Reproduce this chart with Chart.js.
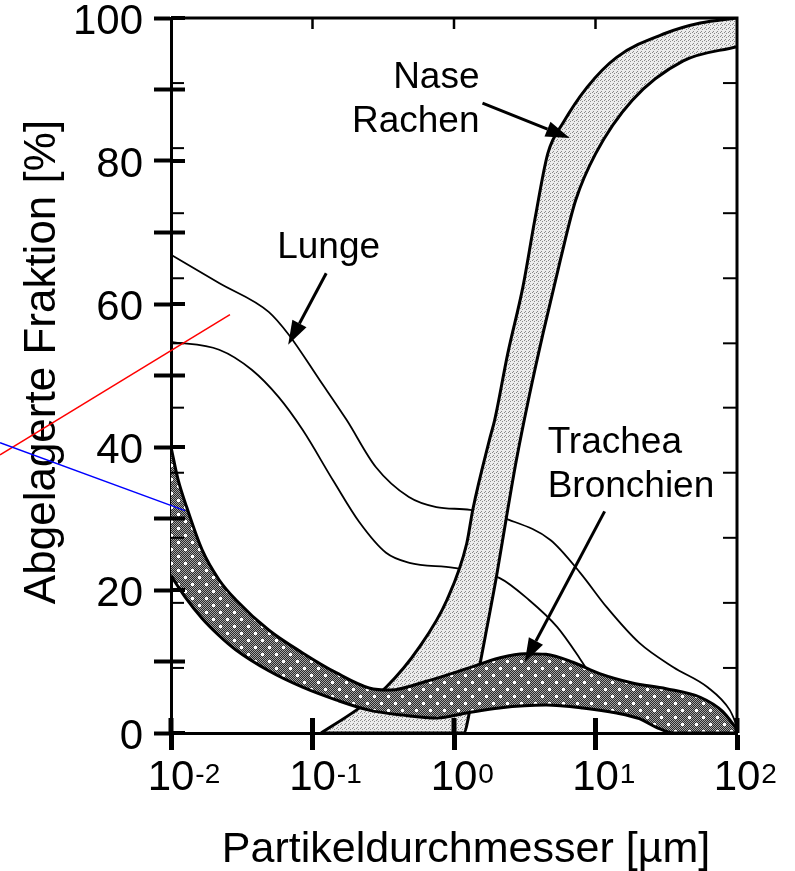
<!DOCTYPE html>
<html>
<head>
<meta charset="utf-8">
<script src="https://cdn.jsdelivr.net/npm/chart.js@4.4.1/dist/chart.umd.min.js"></script>
<style>
  html, body { margin: 0; padding: 0; background: #fff; }
  canvas { display: block; }
</style>
</head>
<body>
<canvas id="c" width="795" height="871"></canvas>
<script>
// Partikeldurchmesser [µm] und abgelagerte Fraktion [%]
const lungeObenX = [0.01, 0.022, 0.049, 0.068, 0.112, 0.174, 0.28, 0.48, 0.75, 1.3, 2.45, 4.8, 7.8, 12, 20.4, 35.5, 62, 89, 100];
const lungeObenY = [66.9, 62.9, 58.9, 55.7, 49.4, 43.8, 37.2, 33.0, 31.6, 31.2, 29.8, 27.0, 22.4, 17.6, 12.6, 9.2, 6.4, 3.2, 1.0];

const lungeUntenX = [0.01, 0.0219, 0.0372, 0.0575, 0.0851, 0.141, 0.214, 0.331, 0.484, 1.0, 2.09, 3.39, 5.37, 7.76, 11.2];
const lungeUntenY = [54.7, 53.6, 50.8, 47.0, 42.4, 35.2, 29.5, 25.2, 23.8, 23.1, 21.7, 18.6, 14.8, 10.4, 5.5];

const naseLinksX = [0.115, 0.204, 0.331, 0.569, 0.891, 1.23, 1.36, 1.78, 1.94, 2.40, 3.07, 3.72, 4.61, 5.89, 8.71, 14.1, 31.6, 55, 100];
const naseLinksY = [0, 3.2, 6.4, 12.0, 18.6, 26.5, 31.3, 41.0, 43.8, 53.1, 62.4, 71.7, 81.1, 85.3, 90.3, 94.5, 97.9, 99.3, 100];

const naseRechtsX = [0.115, 1.17, 1.32, 1.51, 1.70, 2.0, 2.34, 2.75, 3.39, 4.27, 5.62, 7.24, 10, 18.2, 41.7, 100];
const naseRechtsY = [0, 0, 4, 9.2, 14.5, 22, 30, 38, 47, 56, 66, 74.5, 81, 88.5, 94, 96];

const tbObenX = [0.01, 0.0112, 0.0129, 0.0166, 0.0219, 0.0288, 0.049, 0.0851, 0.148, 0.251, 0.355, 0.631, 1.23, 2.09, 3.16, 4.47, 6.92, 10.7, 18.2, 31.6, 55, 79.4, 100];
const tbObenY = [40.0, 35.5, 31.6, 25.6, 21.4, 18.6, 14.4, 11.2, 8.4, 6.3, 6.0, 7.2, 9.0, 10.5, 11.1, 11.0, 9.9, 8.3, 7.0, 6.2, 5.0, 3.0, 0.5];

const tbUntenX = [0.01, 0.0126, 0.0166, 0.0219, 0.0288, 0.049, 0.0851, 0.148, 0.251, 0.437, 0.759, 1.23, 2.09, 4.47, 8.13, 14.1, 20.4, 26.9, 35.5, 100];
const tbUntenY = [22.0, 19.0, 16.0, 13.6, 11.6, 8.7, 6.4, 4.6, 3.2, 2.5, 2.1, 2.8, 3.5, 3.9, 3.5, 2.8, 2.0, 0.8, 0, 0];

const xTicks = [0.01, 0.1, 1, 10, 100];
const xTickExp = ['-2', '-1', '0', '1', '2'];
const yTicks = [0, 10, 20, 30, 40, 50, 60, 70, 80, 90, 100];
const yTickLabels = ['0', '', '20', '', '40', '', '60', '', '80', '', '100'];
const yMinorTicks = [9.1, 18.2, 27.3, 36.4, 45.5, 54.5, 63.6, 72.7, 81.8, 90.9];

const FONT = '"Liberation Sans", Arial, sans-serif';

function pts(xs, ys) {
    return xs.map((x, i) => ({ x: x, y: ys[i] }));
}

function muster(w, h, zeichne) {
    const c = document.createElement('canvas');
    c.width = w;
    c.height = h;
    const g = c.getContext('2d');
    zeichne(g);
    return g.createPattern(c, 'repeat');
}

const naseMuster = muster(4, 4, (g) => {
    g.fillStyle = '#ececec';
    g.fillRect(0, 0, 4, 4);
    g.fillStyle = '#8a8a8a';
    g.fillRect(0, 0, 1, 1);
    g.fillRect(2, 1, 1, 1);
    g.fillRect(1, 3, 1, 1);
});

const tbMuster = muster(14, 14, (g) => {
    for (let y = 0; y < 14; y++) {
        for (let x = 0; x < 14; x++) {
            g.fillStyle = (x + y) % 2 ? '#2a2a2a' : '#a4a4a4';
            g.fillRect(x, y, 1, 1);
        }
    }
    g.fillStyle = '#fff';
    g.fillRect(2, 2, 3, 3);
    g.fillRect(9, 9, 3, 3);
});

// Beschriftungen und Pfeile in Datenkoordinaten
const texte = [
    { t: 'Nase', x: 1.515, y: 90.2, align: 'right' },
    { t: 'Rachen', x: 1.515, y: 84.1, align: 'right' },
    { t: 'Lunge', x: 0.0563, y: 66.4, align: 'left' },
    { t: 'Trachea', x: 4.59, y: 39.2, align: 'left' },
    { t: 'Bronchien', x: 4.59, y: 33.0, align: 'left' }
];
const pfeile = [
    [1.59, 88.1, 6.58, 83.2],
    [0.125, 64.3, 0.0673, 54.3],
    [11.6, 31.0, 3.16, 9.9]
];
const streifen = [
    { c: '#ff0000', p: [0.000619, 38.9, 0.0261, 58.5] },
    { c: '#0000ff', p: [0.000619, 40.6, 0.01256, 31.1] }
];

function strich(ctx, x0, y0, x1, y1) {
    ctx.beginPath();
    ctx.moveTo(x0, y0);
    ctx.lineTo(x1, y1);
    ctx.stroke();
}

function pfeil(ctx, x0, y0, x1, y1) {
    const a = Math.atan2(y1 - y0, x1 - x0);
    const len = 24, half = 8;
    const bx = x1 - len * Math.cos(a), by = y1 - len * Math.sin(a);
    ctx.lineWidth = 3;
    strich(ctx, x0, y0, bx, by);
    ctx.beginPath();
    ctx.moveTo(x1, y1);
    ctx.lineTo(bx + half * Math.sin(a), by - half * Math.cos(a));
    ctx.lineTo(bx - half * Math.sin(a), by + half * Math.cos(a));
    ctx.closePath();
    ctx.fill();
}

const deko = {
    id: 'deko',
    afterDatasetsDraw(chart) {
        const { ctx, chartArea: a, scales: { x, y } } = chart;
        ctx.save();
        ctx.strokeStyle = '#000';
        ctx.fillStyle = '#000';

        // Rahmen oben / rechts
        ctx.lineWidth = 3;
        ctx.beginPath();
        ctx.moveTo(a.left, a.top);
        ctx.lineTo(a.right, a.top);
        ctx.lineTo(a.right, a.bottom);
        ctx.stroke();

        // Hauptstriche nach innen
        ctx.lineWidth = 4;
        yTicks.forEach((v) => {
            const py = y.getPixelForValue(v);
            strich(ctx, a.left, py, a.left + 14, py);
        });
        ctx.lineWidth = 5;
        xTicks.forEach((v) => {
            const px = x.getPixelForValue(v);
            strich(ctx, px, a.bottom - 15, px, a.bottom);
        });

        // Nebenstriche links und rechts
        ctx.lineWidth = 2;
        yMinorTicks.forEach((v) => {
            const py = y.getPixelForValue(v);
            strich(ctx, a.left, py, a.left + 13, py);
            strich(ctx, a.right - 14, py, a.right, py);
        });

        // Striche oben
        ctx.lineWidth = 2.5;
        xTicks.slice(1, -1).forEach((v) => {
            const px = x.getPixelForValue(v);
            strich(ctx, px, a.top, px, a.top + 11);
        });

        // Pfeile
        pfeile.forEach((p) => {
            pfeil(ctx, x.getPixelForValue(p[0]), y.getPixelForValue(p[1]),
                x.getPixelForValue(p[2]), y.getPixelForValue(p[3]));
        });

        // Beschriftungen
        ctx.font = '37px ' + FONT;
        ctx.textBaseline = 'alphabetic';
        texte.forEach((t) => {
            ctx.textAlign = t.align;
            ctx.fillText(t.t, x.getPixelForValue(t.x), y.getPixelForValue(t.y));
        });

        // x-Achsenbeschriftung 10^n
        xTicks.forEach((v, i) => {
            const px = x.getPixelForValue(v);
            ctx.font = '42px ' + FONT;
            ctx.textAlign = 'center';
            ctx.fillText('10', px, 790);
            const w = ctx.measureText('10').width;
            ctx.font = '28px ' + FONT;
            ctx.textAlign = 'left';
            ctx.fillText(xTickExp[i], px + w / 2 + 1, 783);
        });

        // Achsentitel
        ctx.font = '43px ' + FONT;
        ctx.textAlign = 'center';
        ctx.fillText('Partikeldurchmesser [µm]', 466, 862);
        ctx.save();
        ctx.translate(55, 362);
        ctx.rotate(-Math.PI / 2);
        ctx.font = '44px ' + FONT;
        ctx.fillText('Abgelagerte Fraktion [%]', 0, 0);
        ctx.restore();

        // rote und blaue Linie
        ctx.lineWidth = 1.5;
        streifen.forEach((s) => {
            ctx.strokeStyle = s.c;
            strich(ctx, x.getPixelForValue(s.p[0]), y.getPixelForValue(s.p[1]),
                x.getPixelForValue(s.p[2]), y.getPixelForValue(s.p[3]));
        });

        ctx.restore();
    }
};

const linie = { pointRadius: 0, borderColor: '#000', cubicInterpolationMode: 'monotone' };

new Chart(document.getElementById('c').getContext('2d'), {
    type: 'line',
    data: {
        datasets: [
            { ...linie, label: 'Lunge oben', data: pts(lungeObenX, lungeObenY), borderWidth: 1.8, fill: false, order: 10 },
            { ...linie, label: 'Lunge unten', data: pts(lungeUntenX, lungeUntenY), borderWidth: 1.8, fill: false, order: 10 },
            { ...linie, label: 'Nase Rachen', data: pts(naseLinksX, naseLinksY), borderWidth: 3, fill: '+1', backgroundColor: naseMuster, order: 8 },
            { ...linie, label: 'Nase Rachen 2', data: pts(naseRechtsX, naseRechtsY), borderWidth: 3, fill: false, order: 7 },
            { ...linie, label: 'Trachea Bronchien', data: pts(tbObenX, tbObenY), borderWidth: 3, fill: '+1', backgroundColor: tbMuster, order: 6 },
            { ...linie, label: 'Trachea Bronchien 2', data: pts(tbUntenX, tbUntenY), borderWidth: 3, fill: false, order: 5 }
        ]
    },
    options: {
        responsive: false,
        animation: false,
        events: [],
        layout: { padding: { left: 0, right: 58, top: 18, bottom: 0 } },
        plugins: {
            legend: { display: false },
            tooltip: { enabled: false }
        },
        scales: {
            x: {
                type: 'logarithmic',
                min: 0.01,
                max: 100,
                afterBuildTicks: (s) => { s.ticks = xTicks.map((v) => ({ value: v })); },
                afterFit: (s) => { s.height = 138; },
                ticks: { display: false },
                grid: { drawOnChartArea: false, tickLength: 17, tickWidth: 5, tickColor: '#000' },
                border: { color: '#000', width: 3 }
            },
            y: {
                min: 0,
                max: 100,
                afterBuildTicks: (s) => { s.ticks = yTicks.map((v) => ({ value: v })); },
                afterFit: (s) => { s.width = 171; },
                ticks: {
                    callback: (v, i) => yTickLabels[i],
                    color: '#000',
                    font: { family: FONT, size: 42, lineHeight: 0.1 },
                    padding: 11,
                    labelOffset: 4
                },
                grid: { drawOnChartArea: false, tickLength: 17, tickWidth: 4, tickColor: '#000' },
                border: { color: '#000', width: 3 }
            }
        }
    },
    plugins: [deko]
});
</script>
</body>
</html>
